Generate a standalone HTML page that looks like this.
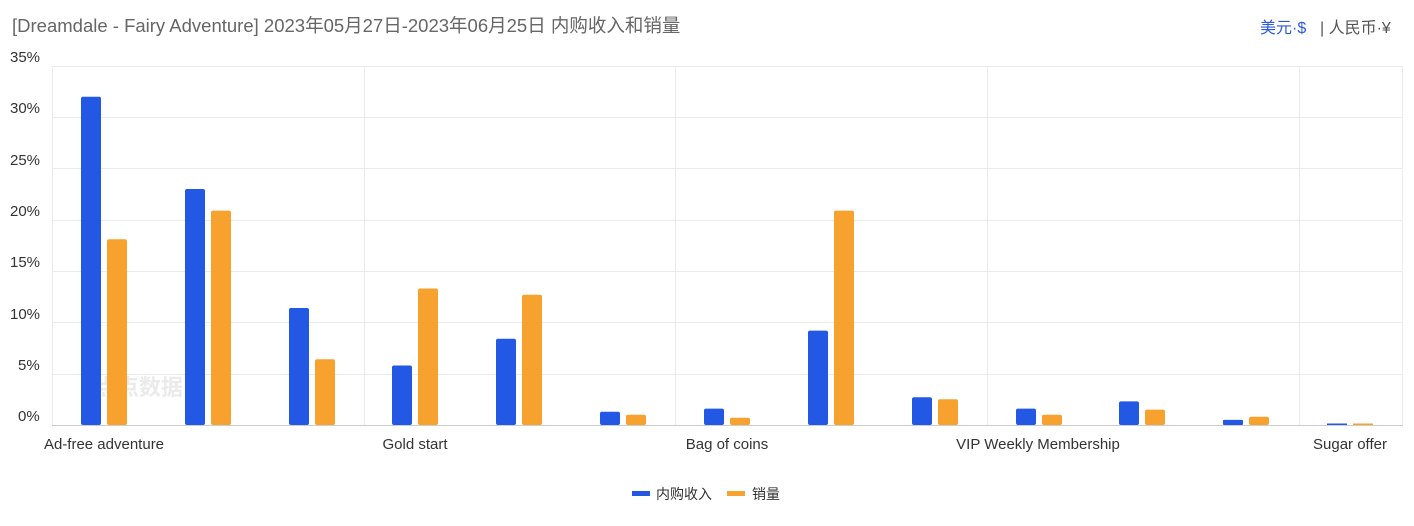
<!DOCTYPE html>
<html><head><meta charset="utf-8"><style>
body{margin:0;background:#fff;width:1414px;height:521px;overflow:hidden;font-family:"Liberation Sans","Noto Sans CJK SC",sans-serif}
</style></head><body>
<svg width="1414" height="521" xmlns="http://www.w3.org/2000/svg" font-family="Liberation Sans, Noto Sans CJK SC, sans-serif">
<text x="12" y="32" font-size="18.5" fill="#666">[Dreamdale - Fairy Adventure]  2023年05月27日-2023年06月25日 内购收入和销量</text>
<text x="1260" y="33" font-size="16" fill="#2a5bd7">美元·$</text>
<text x="1320" y="33" font-size="16" fill="#555">| 人民币·¥</text>
<g stroke="#ebebeb" stroke-width="1">
<line x1="52" x2="1403" y1="66.5" y2="66.5"/><line x1="52" x2="1403" y1="117.5" y2="117.5"/>
<line x1="52" x2="1403" y1="168.5" y2="168.5"/><line x1="52" x2="1403" y1="220.5" y2="220.5"/>
<line x1="52" x2="1403" y1="271.5" y2="271.5"/><line x1="52" x2="1403" y1="322.5" y2="322.5"/>
<line x1="52" x2="1403" y1="374.5" y2="374.5"/>
<line x1="52.5" x2="52.5" y1="66" y2="425"/><line x1="364.5" x2="364.5" y1="66" y2="425"/>
<line x1="675.5" x2="675.5" y1="66" y2="425"/><line x1="987.5" x2="987.5" y1="66" y2="425"/>
<line x1="1299.5" x2="1299.5" y1="66" y2="425"/><line x1="1402.5" x2="1402.5" y1="66" y2="425"/>
</g>
<line x1="52" x2="1403" y1="425.5" y2="425.5" stroke="#ccc"/>
<g font-size="15" fill="#333">
<text x="10" y="62">35%</text><text x="10" y="113">30%</text><text x="10" y="165">25%</text>
<text x="10" y="216">20%</text><text x="10" y="267">15%</text><text x="10" y="319">10%</text>
<text x="18" y="370">5%</text><text x="18" y="421">0%</text>
</g>
<g font-size="15" fill="#333" text-anchor="middle">
<text x="104" y="449">Ad-free adventure</text><text x="415" y="449">Gold start</text>
<text x="727" y="449">Bag of coins</text><text x="1038" y="449">VIP Weekly Membership</text>
<text x="1350" y="449">Sugar offer</text>
</g>
<text x="95" y="395" font-size="22" fill="#ebebeb" font-weight="bold">点点数据</text>
<g fill="#2258e3">
<rect x="81" y="96.7" width="20" height="328.3" rx="2"/>
<rect x="185" y="189" width="20" height="236" rx="2"/>
<rect x="289" y="308" width="20" height="117" rx="2"/>
<rect x="392" y="365.5" width="20" height="59.5" rx="2"/>
<rect x="496" y="338.8" width="20" height="86.2" rx="2"/>
<rect x="600" y="411.7" width="20" height="13.3" rx="2"/>
<rect x="704" y="408.6" width="20" height="16.4" rx="2"/>
<rect x="808" y="330.6" width="20" height="94.4" rx="2"/>
<rect x="912" y="397.3" width="20" height="27.7" rx="2"/>
<rect x="1016" y="408.6" width="20" height="16.4" rx="2"/>
<rect x="1119" y="401.4" width="20" height="23.6" rx="2"/>
<rect x="1223" y="419.9" width="20" height="5.1" rx="1"/>
<rect x="1327" y="423.5" width="20" height="1.5"/>
</g>
<g fill="#f7a22e">
<rect x="107" y="239.3" width="20" height="185.7" rx="2"/>
<rect x="211" y="210.6" width="20" height="214.4" rx="2"/>
<rect x="315" y="359.3" width="20" height="65.7" rx="2"/>
<rect x="418" y="288.5" width="20" height="136.5" rx="2"/>
<rect x="522" y="294.7" width="20" height="130.3" rx="2"/>
<rect x="626" y="414.7" width="20" height="10.3" rx="2"/>
<rect x="730" y="417.8" width="20" height="7.2" rx="2"/>
<rect x="834" y="210.6" width="20" height="214.4" rx="2"/>
<rect x="938" y="399.3" width="20" height="25.7" rx="2"/>
<rect x="1042" y="414.7" width="20" height="10.3" rx="2"/>
<rect x="1145" y="409.6" width="20" height="15.4" rx="2"/>
<rect x="1249" y="416.8" width="20" height="8.2" rx="2"/>
<rect x="1353" y="423.5" width="20" height="1.5"/>
</g>
<rect x="632" y="491" width="18" height="5" fill="#2258e3"/>
<text x="656" y="499" font-size="14" fill="#333">内购收入</text>
<rect x="727" y="491" width="18" height="5" fill="#f7a22e"/>
<text x="752" y="499" font-size="14" fill="#333">销量</text>
</svg>
</body></html>
